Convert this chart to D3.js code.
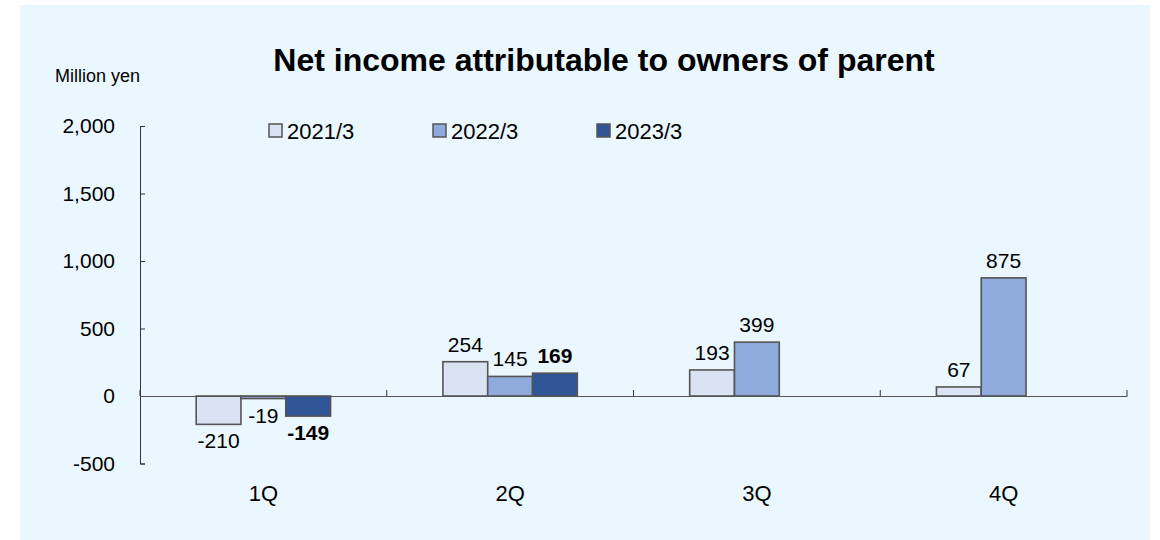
<!DOCTYPE html>
<html lang="en">
<head>
    <meta charset="UTF-8">
    <title>Net income attributable to owners of parent</title>
    <style>
        body { margin: 0; background: #ffffff; }
        svg { display: block; font-family: Arial, "Liberation Sans", sans-serif; }
        .axis-line { stroke: #333; stroke-width: 1; }
        .tick-label { fill: #000; font-size: 21px; }
        .cat-label { fill: #000; font-size: 22px; }
        .bar { stroke: #555; stroke-width: 1.6; }
        .data-label { fill: #000; font-size: 21px; }
    </style>
</head>
<body>
    <svg id="chart" width="1160" height="540"></svg>

    <script src="https://d3js.org/d3.v7.min.js"></script>
    <script>
        // Data
        var quarters = ['1Q', '2Q', '3Q', '4Q'];
        var seriesNames = ['2021/3', '2022/3', '2023/3'];
        var fy2021 = [-210, 254, 193, 67];
        var fy2022 = [-19, 145, 399, 875];
        var fy2023 = [-149, 169, null, null];
        var yTicks = [-500, 0, 500, 1000, 1500, 2000];

        var seriesValues = [fy2021, fy2022, fy2023];
        var colors = ['#dae3f3', '#8faadc', '#2f5597'];

        // plain hyphen instead of unicode minus
        var fmt = function (v) { return d3.format(',')(Math.abs(v)).replace(/^/, v < 0 ? '-' : ''); };

        var svg = d3.select('#chart');

        // Background panel
        svg.append('rect')
            .attr('x', 20).attr('y', 5)
            .attr('width', 1130).attr('height', 535)
            .attr('fill', '#eaf7fe');

        // Scales
        var xScale = d3.scaleBand()
            .domain(quarters)
            .range([140, 1127])
            .padding(0);

        var inner = d3.scaleBand()
            .domain(seriesNames)
            .range([0, xScale.bandwidth()])
            .paddingInner(0)
            .paddingOuter(1.254);

        var yScale = d3.scaleLinear()
            .domain([-500, 2000])
            .range([463.5, 126]);

        // Title
        svg.append('text')
            .attr('x', 604).attr('y', 71)
            .attr('text-anchor', 'middle')
            .attr('font-size', '32px')
            .attr('font-weight', 'bold')
            .text('Net income attributable to owners of parent');

        // Unit label
        svg.append('text')
            .attr('x', 55).attr('y', 82)
            .attr('font-size', '18px')
            .text('Million yen');

        // Y axis
        var yAxis = d3.axisLeft(yScale)
            .tickValues(yTicks)
            .tickSize(-5)
            .tickPadding(25)
            .tickFormat(fmt);
        var yg = svg.append('g')
            .attr('transform', 'translate(140,0)')
            .call(yAxis);
        yg.attr('font-size', null).attr('font-family', null);
        yg.select('.domain').attr('stroke', '#333');
        yg.selectAll('.tick line').attr('stroke', '#333');
        yg.selectAll('.tick text').attr('class', 'tick-label');

        // Bars
        seriesNames.forEach(function (name, si) {
            var rows = quarters.map(function (q, i) {
                return { q: q, v: seriesValues[si][i] };
            }).filter(function (d) { return d.v !== null; });

            svg.selectAll('.bar-' + si)
                .data(rows)
                .enter()
                .append('rect')
                .attr('class', 'bar bar-' + si)
                .attr('x', d => xScale(d.q) + inner(name))
                .attr('y', d => yScale(Math.max(0, d.v)))
                .attr('width', inner.bandwidth())
                .attr('height', d => Math.abs(yScale(d.v) - yScale(0)))
                .attr('fill', colors[si]);

            svg.selectAll('.label-' + si)
                .data(rows)
                .enter()
                .append('text')
                .attr('class', 'data-label label-' + si)
                .attr('x', d => xScale(d.q) + inner(name) + inner.bandwidth() / 2)
                .attr('y', d => d.v >= 0 ? yScale(d.v) - 10 : yScale(d.v) + 24)
                .attr('text-anchor', 'middle')
                .attr('font-weight', si === 2 ? 'bold' : 'normal')
                .text(d => fmt(d.v));
        });

        // X axis line (drawn over bars)
        var xAxis = d3.axisBottom(xScale)
            .tickValues([])
            .tickSizeOuter(0);
        var xg = svg.append('g')
            .attr('transform', 'translate(0,' + yScale(0) + ')')
            .call(xAxis);
        xg.select('.domain').attr('stroke', '#555');

        // category boundary ticks
        var bounds = quarters.map(q => xScale(q)).concat([xScale.range()[1]]);
        svg.selectAll('.cat-tick')
            .data(bounds)
            .enter()
            .append('line')
            .attr('class', 'axis-line')
            .attr('x1', d => d)
            .attr('x2', d => d)
            .attr('y1', yScale(0))
            .attr('y2', yScale(0) - 6);

        // Category labels
        svg.selectAll('.cat-label')
            .data(quarters)
            .enter()
            .append('text')
            .attr('class', 'cat-label')
            .attr('x', d => xScale(d) + xScale.bandwidth() / 2)
            .attr('y', 501)
            .attr('text-anchor', 'middle')
            .text(d => d);

        // Legend
        var legendX = [269, 433, 597];
        var legend = svg.selectAll('.legend-item')
            .data(seriesNames)
            .enter()
            .append('g')
            .attr('transform', (d, i) => 'translate(' + legendX[i] + ',124)');
        legend.append('rect')
            .attr('width', 13).attr('height', 13)
            .attr('fill', (d, i) => colors[i])
            .attr('stroke', '#555')
            .attr('stroke-width', 1.5);
        legend.append('text')
            .attr('x', 18).attr('y', 15)
            .attr('font-size', '22px')
            .text(d => d);
    </script>
</body>
</html>
